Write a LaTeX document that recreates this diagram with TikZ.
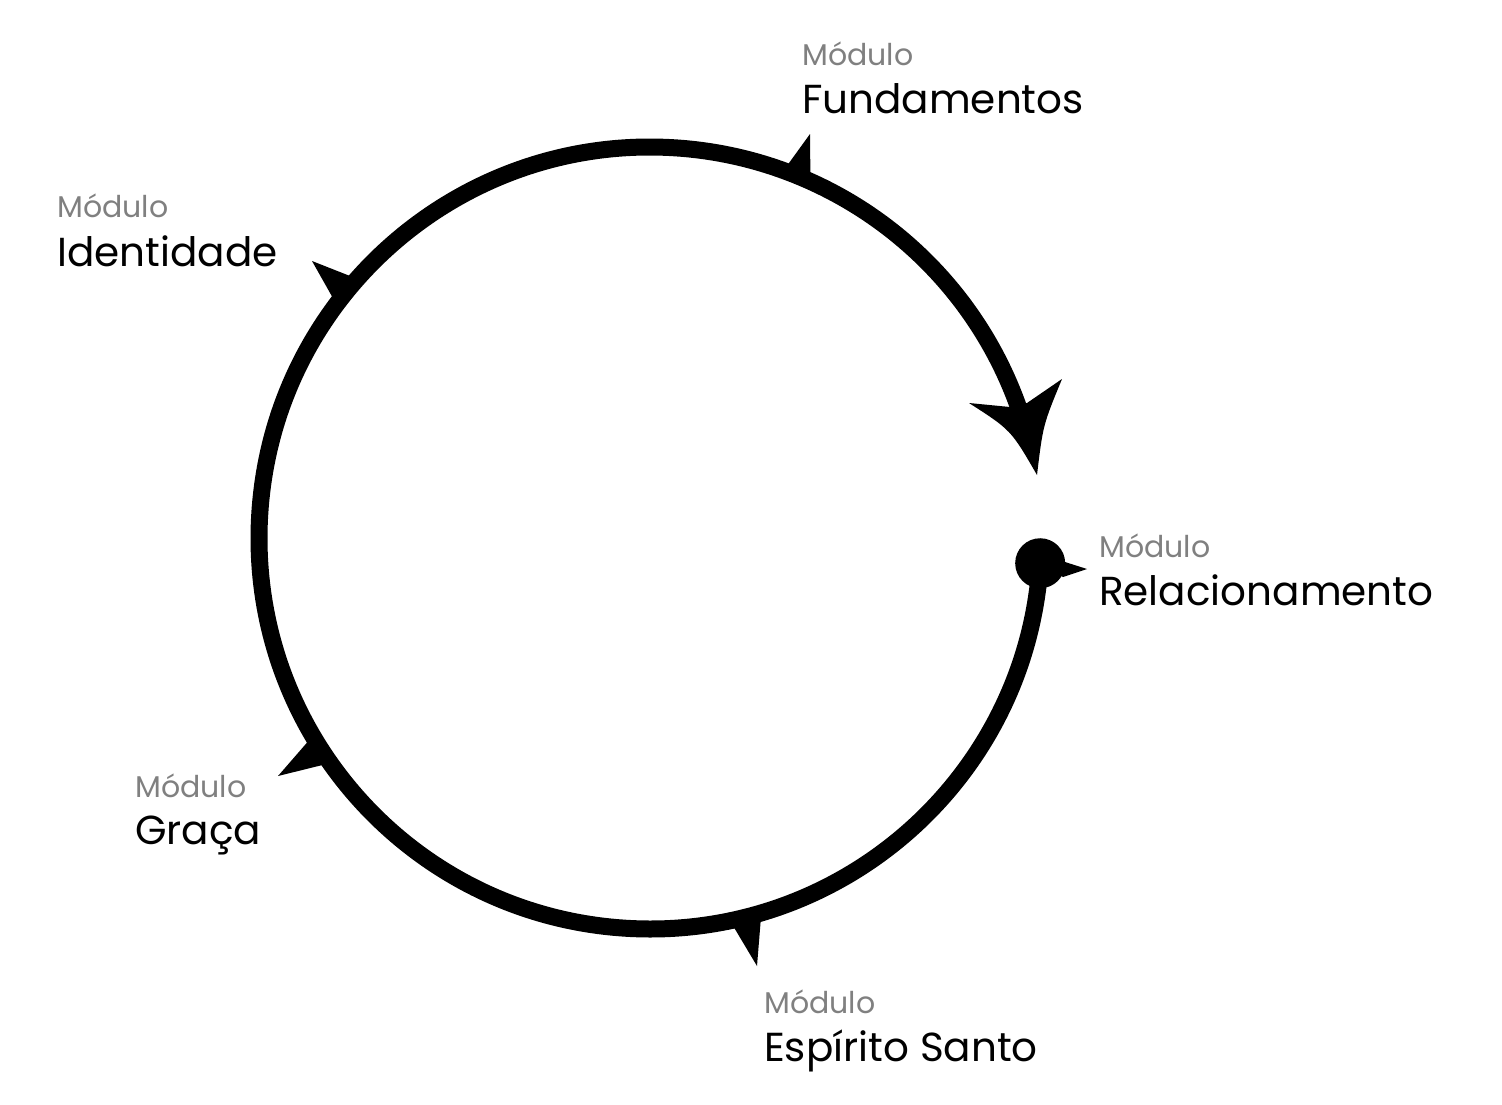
\documentclass[tikz,border=0pt]{standalone}
\usepackage{fontspec}
\setmainfont{Poppins}
\usetikzlibrary{calc}
\definecolor{modgray}{HTML}{808080}
\tikzset{
  ring/.style={line width=17pt, draw=black},
  modlabel/.style={anchor=base west, inner sep=0pt, text=modgray, font=\fontsize{30}{34}\selectfont},
  namelabel/.style={anchor=base west, inner sep=0pt, text=black, font=\fontsize{40.5}{46}\selectfont},
  tickfill/.style={fill=black}
}
\newcommand{\mytick}[3]{\fill[tickfill] (#1) -- ($(c)+(#2:399)$) -- ($(c)+(#2:388)$) -- ($(c)+(#3:388)$) -- ($(c)+(#3:399)$) -- cycle;}
\begin{document}
\begin{tikzpicture}[x=1pt,y=-1pt]
\useasboundingbox (0,0) rectangle (1502,1104);
\coordinate (c) at (650,538);
\coordinate (start) at ($(c)+(3.7:391)$);
% ring
\draw[ring] (start) arc[start angle=3.7, end angle=342, radius=391];
% start dot with spike
\fill[tickfill] (start) circle[radius=25];
\fill[tickfill] (1087,569) -- (1065,562) -- (start) -- (1063,577) -- cycle;
% arrow head
\fill[tickfill] (1037,475) .. controls (1011,430) .. (969,403) -- (1010,407) -- (1027,403) -- (1062,379) .. controls (1043,425) .. (1037,475) -- cycle;
% ticks
\mytick{810,134}{-66.3}{-69.7}
\mytick{312,261}{221.1}{217.2}
\mytick{278,776}{149.2}{145.3}
\mytick{757,966}{77.8}{73.9}
% labels
\node[modlabel] (m1) at (802,65) {Módulo};
\node[namelabel] (n1) at (802,113) {Fundamentos};
\node[modlabel] (m2) at (57,217) {Módulo};
\node[namelabel] (n2) at (57,266) {Identidade};
\node[modlabel] (m3) at (1099,557) {Módulo};
\node[namelabel] (n3) at (1099,605) {Relacionamento};
\node[modlabel] (m4) at (135,797) {Módulo};
\node[namelabel] (n4) at (135,844) {Graça};
\node[modlabel] (m5) at (764,1013) {Módulo};
\node[namelabel] (n5) at (764,1061) {Espírito Santo};
\end{tikzpicture}
\end{document}
